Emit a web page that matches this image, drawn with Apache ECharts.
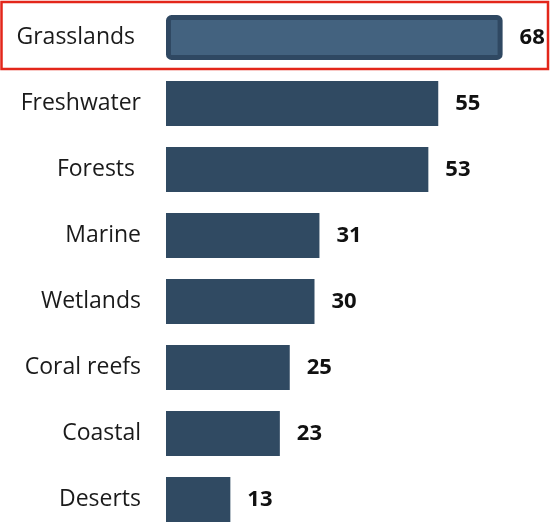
<!DOCTYPE html>
<html>
<head>
<meta charset="utf-8">
<script src="https://cdn.jsdelivr.net/npm/echarts@6/dist/echarts.min.js"></script>
<style>
html,body{margin:0;padding:0;background:#fff;}
#main{width:550px;height:522px;}
</style>
</head>
<body>
<div id="main"></div>
<script>
var categories = ['Grasslands ', 'Freshwater', 'Forests ', 'Marine', 'Wetlands', 'Coral reefs', 'Coastal', 'Deserts'];
var values = [68, 55, 53, 31, 30, 25, 23, 13];
var highlighted = 'Grasslands ';

var chart = echarts.init(document.getElementById('main'));
var data = values.map(function (v, i) {
  var d = { value: v };
  if (categories[i] === highlighted) {
    d.itemStyle = { color: '#43627f', borderColor: '#2f4862', borderWidth: 5, borderRadius: 3 };
  }
  return d;
});

chart.setOption({
  animation: false,
  backgroundColor: '#ffffff',
  grid: { left: 166, top: 4.5, width: 396, height: 528, containLabel: false, outerBoundsMode: 'none' },
  xAxis: { type: 'value', min: 0, max: 80, show: false },
  yAxis: {
    type: 'category',
    data: categories,
    inverse: true,
    axisLine: { show: false },
    axisTick: { show: false },
    axisLabel: { margin: 25, fontSize: 23, color: '#1a1a1a', fontFamily: 'Open Sans' }
  },
  series: [{
    type: 'bar',
    data: data,
    barCategoryGap: '32%',
    itemStyle: { color: '#304a62' },
    label: {
      show: true, position: 'right', distance: 17,
      fontSize: 22, fontWeight: 'bold', color: '#111111', fontFamily: 'Open Sans'
    }
  }]
});

var idx = categories.indexOf(highlighted);
var center = chart.convertToPixel({ yAxisIndex: 0 }, categories[idx]);
chart.setOption({
  graphic: [{
    type: 'rect',
    shape: { x: 1.5, y: center - 35.5, width: 546.5, height: 67 },
    style: { fill: 'none', stroke: '#e3261a', lineWidth: 2.5 },
    z: 100
  }]
});
</script>
</body>
</html>
